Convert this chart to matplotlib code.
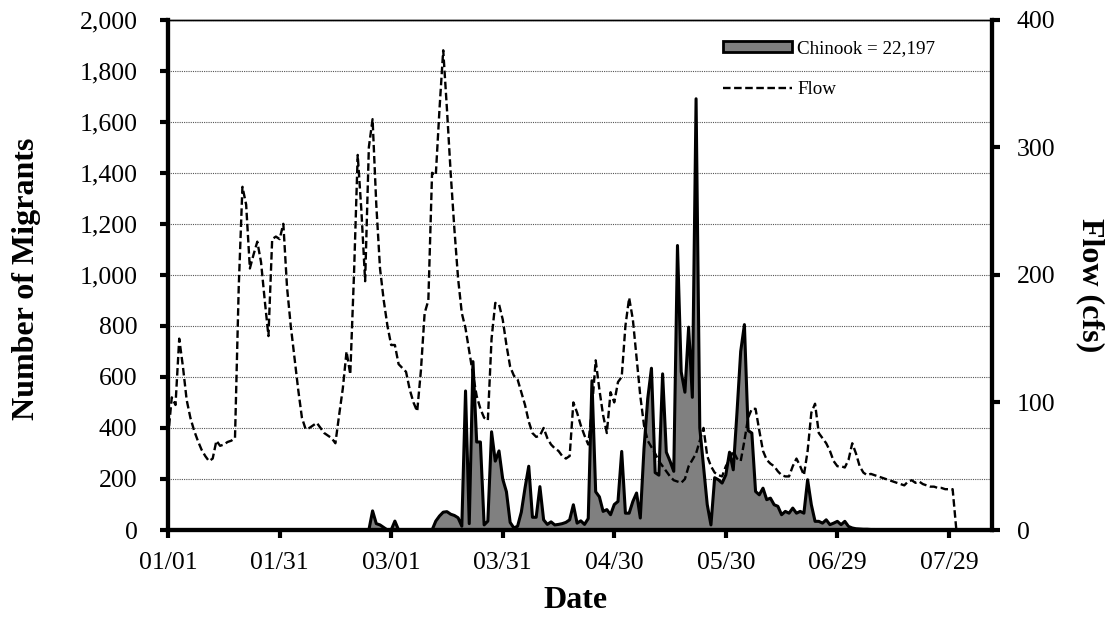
import numpy as np
import matplotlib.pyplot as plt
from matplotlib.patches import Patch
from matplotlib.lines import Line2D
from matplotlib.ticker import FuncFormatter

plt.rcParams['font.family'] = ['Liberation Serif', 'DejaVu Serif']

# daily values, day 0 = 01/01
flow = [73, 104, 98, 150, 128, 102, 88, 78, 70, 63, 58, 54, 56, 70, 66, 67, 69, 70, 72, 190,
        269, 255, 205, 216, 226, 210, 180, 152, 228, 230, 228, 240, 190, 160, 135, 110, 88, 79, 80, 82,
        84, 80, 76, 74, 72, 68, 90, 111, 140, 122, 200, 294, 250, 195, 300, 322, 255, 205, 180, 160,
        145, 145, 130, 127, 124, 110, 100, 93, 125, 170, 180, 280, 278, 330, 376, 330, 280, 236, 197, 170,
        158, 140, 122, 105, 95, 88, 86, 150, 178, 177, 165, 145, 128, 121, 118, 108, 98, 85, 76, 73,
        74, 80, 72, 67, 64, 62, 58, 56, 58, 100, 92, 82, 74, 67, 95, 133, 110, 90, 76, 108,
        100, 116, 120, 160, 182, 165, 135, 105, 82, 70, 65, 60, 54, 50, 46, 42, 39, 38, 37, 40,
        50, 55, 60, 70, 80, 58, 50, 45, 43, 42, 50, 55, 62, 56, 54, 70, 88, 95, 95, 78,
        62, 55, 52, 50, 46, 43, 42, 42, 50, 56, 50, 43, 62, 92, 99, 76, 72, 68, 62, 54,
        50, 50, 49, 55, 68, 60, 50, 45, 43, 44, 43, 42, 41, 40, 39, 38, 37, 36, 35, 38,
        39, 37, 38, 36, 35, 34, 34, 33, 33, 32, 32, 32, 0]

chinook = [0] * 55 + [75, 25, 20, 10, 0, 0, 35] + [0] * 10 + \
    [35, 55, 70, 72, 62, 57, 48, 15, 545, 25, 660, 345, 345, 20, 35, 385, 270, 310, 200, 150,
     30, 8, 15, 70, 165, 250, 50, 50, 170, 40, 22, 32, 20, 22, 25, 30, 40, 99, 27, 36,
     22, 45, 585, 150, 130, 73, 80, 60, 100, 112, 308, 66, 66, 112, 145, 47, 320, 515, 634, 225,
     215, 612, 305, 270, 230, 1115, 620, 540, 795, 520, 1690, 400, 250, 100, 20, 205, 197, 184, 216, 305,
     236, 460, 700, 805, 390, 380, 151, 138, 164, 119, 125, 99, 93, 60, 73, 66, 86, 66, 73, 66,
     197, 99, 34, 34, 27, 40, 21, 27, 34, 21, 34, 14, 8, 5, 4, 3, 3, 2, 2, 1, 1] + [0] * 20

days = np.arange(len(flow))
tick_days = [0, 30, 60, 90, 120, 150, 180, 210]
tick_labels = ['01/01', '01/31', '03/01', '03/31', '04/30', '05/30', '06/29', '07/29']
total = 22197

dash = (0, (3.2, 1.5))

fig = plt.figure(figsize=(11.13, 6.34), dpi=100)
ax = fig.add_axes([0.151, 0.164, 0.740, 0.805])

ax.fill_between(days, chinook, 0, facecolor='#808080', edgecolor='none', zorder=2)
ax.plot(days, chinook, color='black', lw=2.2, zorder=3)

ax.set_xlim(0, 221.5)
ax.set_ylim(0, 2000)
ax.set_yticks(range(0, 2001, 200))
ax.yaxis.set_major_formatter(FuncFormatter(lambda v, p: f'{int(v):,}'))
ax.set_xticks(tick_days)
ax.set_xticklabels(tick_labels)
ax.grid(axis='y', color='#555555', linestyle=(0, (1, 1)), lw=0.8, zorder=1)
ax.tick_params(axis='both', labelsize=18.5, width=3, length=6, direction='out')
ax.tick_params(axis='y', pad=16)
ax.tick_params(axis='x', pad=10)

for s in ['left', 'bottom', 'right']:
    ax.spines[s].set_linewidth(3)
ax.spines['top'].set_linewidth(1)

ax2 = ax.twinx()
ax2.plot(days, flow, color='black', lw=1.7, linestyle=dash, zorder=4)
ax2.set_ylim(0, 400)
ax2.set_yticks(range(0, 401, 100))
ax2.tick_params(axis='y', labelsize=18.5, width=3, length=6, direction='out', pad=12)
for s in ['left', 'bottom', 'right']:
    ax2.spines[s].set_linewidth(3)
ax2.spines['top'].set_linewidth(1)

fig.text(27 / 1113, 1 - 279 / 634, 'Number of Migrants', rotation=90, ha='center', va='center',
         fontsize=23, fontweight='bold')
fig.text(1090 / 1113, 1 - 285 / 634, 'Flow (cfs)', rotation=270, ha='center', va='center',
         fontsize=23, fontweight='bold')
fig.text(575 / 1113, 1 - 600 / 634, 'Date', ha='center', va='center',
         fontsize=23, fontweight='bold')

handles = [Patch(facecolor='#808080', edgecolor='black', lw=2),
           Line2D([0], [0], color='black', lw=1.7, linestyle=dash)]
ax2.legend(handles, [f'Chinook = {total:,}', 'Flow'], loc='upper left',
           bbox_to_anchor=(0.653, 0.993), frameon=False, fontsize=13.7,
           handlelength=3.6, handleheight=0.5, labelspacing=1.25, handletextpad=0.3)

fig.savefig('out.png', dpi=100)
